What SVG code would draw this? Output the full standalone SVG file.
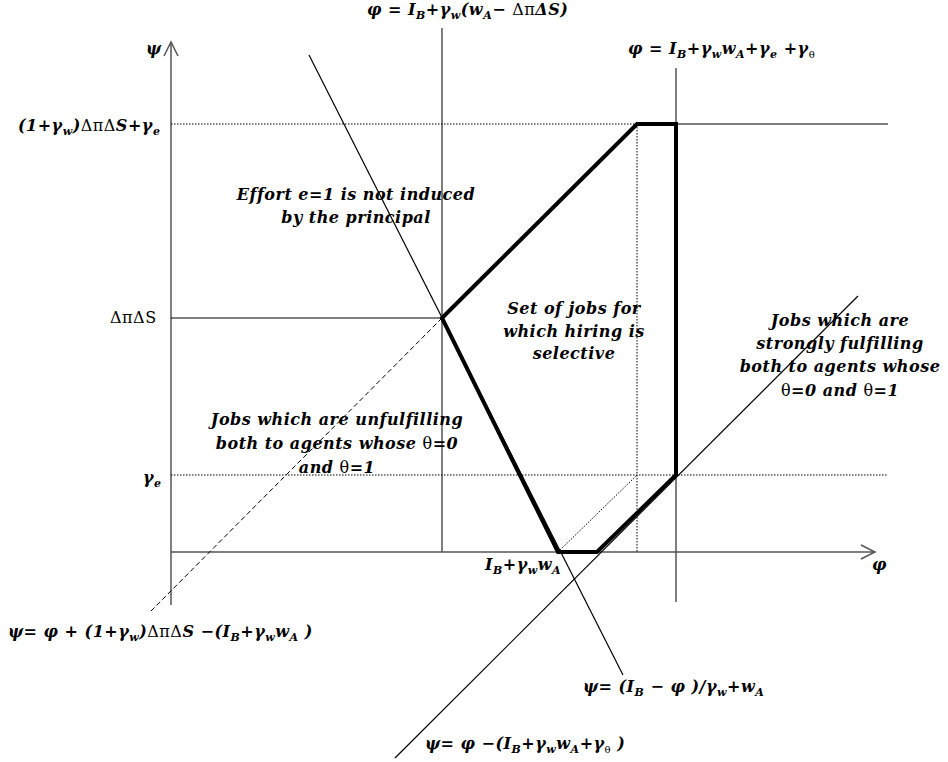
<svg xmlns="http://www.w3.org/2000/svg" width="948" height="762" viewBox="0 0 948 762">
<style>
.t{font-family:"DejaVu Serif","Liberation Serif",serif;font-size:16px;font-weight:bold;font-style:italic;fill:#000;letter-spacing:0.5px}
.c{text-anchor:middle}
.u{font-style:normal;font-weight:normal}
.ax{stroke:#555;stroke-width:1.5;fill:none}
.th{stroke:#000;stroke-width:1.2;fill:none}
.dt{stroke:#000;stroke-width:1;stroke-dasharray:1.5 1.5;fill:none}
.ds{stroke:#000;stroke-width:1;stroke-dasharray:5 3;fill:none}
.bold{stroke:#000;stroke-width:4;fill:none;stroke-linejoin:miter}
</style>
<rect width="948" height="762" fill="#fff"/>
<g id="connectors">
<line class="ax" x1="171" y1="605" x2="171" y2="42"/>
<polyline class="ax" points="164,56 171,42 178,56"/>
<line class="ax" x1="171" y1="552" x2="875" y2="552"/>
<polyline class="ax" points="861,545 875,552 861,559"/>
<line class="ax" x1="442" y1="28" x2="442" y2="552"/>
<line class="ax" x1="676" y1="68" x2="676" y2="602"/>
<line class="th" x1="171" y1="318" x2="442" y2="318"/>
<line class="dt" x1="171" y1="124" x2="637" y2="124"/>
<line class="th" x1="676" y1="124" x2="888" y2="124"/>
<line class="dt" x1="171" y1="475" x2="888" y2="475"/>
<line class="dt" x1="637" y1="124" x2="637" y2="552"/>
<line class="dt" x1="558" y1="552" x2="637" y2="475"/>
<line class="th" x1="309" y1="55" x2="623" y2="675"/>
<line class="th" x1="395" y1="758" x2="858" y2="296"/>
<line class="ds" x1="442" y1="318" x2="150" y2="612"/>
<polygon class="bold" points="442,318 637,124 676,124 676,475 597,552 558,552"/>
</g>
<g id="label-psi"><text class="t" x="146" y="54">ψ</text></g>
<g id="label-phi"><text class="t" x="872" y="570">φ</text></g>
<g id="label-top1"><text class="t" x="367" y="15">φ = I<tspan font-size="11" dy="4">B</tspan><tspan dy="-4">+γ</tspan><tspan font-size="11" dy="4">w</tspan><tspan dy="-4">(w</tspan><tspan font-size="11" dy="4">A</tspan><tspan dy="-4">− </tspan><tspan class="u">Δπ</tspan><tspan>Δ</tspan>S)</text></g>
<g id="label-top2"><text class="t" x="628" y="54">φ = I<tspan font-size="11" dy="4">B</tspan><tspan dy="-4">+γ</tspan><tspan font-size="11" dy="4">w</tspan><tspan dy="-4">w</tspan><tspan font-size="11" dy="4">A</tspan><tspan dy="-4">+γ</tspan><tspan font-size="11" dy="4">e</tspan><tspan dy="-4"> +γ</tspan><tspan font-size="10" dy="4" class="u">θ</tspan></text></g>
<g id="label-ymax"><text class="t" x="18" y="131">(1+γ<tspan font-size="11" dy="4">w</tspan><tspan dy="-4">)</tspan><tspan class="u">ΔπΔ</tspan>S+γ<tspan font-size="11" dy="4">e</tspan></text></g>
<g id="label-dpds"><text class="t u" x="110" y="323" font-size="13">ΔπΔS</text></g>
<g id="label-ge"><text class="t" x="143" y="483">γ<tspan font-size="11" dy="4">e</tspan></text></g>
<g id="label-effort"><text class="t c" x="356" y="200">Effort e=1 is not induced</text><text class="t c" x="356" y="223">by the principal</text></g>
<g id="label-selective"><text class="t c" x="574" y="314">Set of jobs for</text><text class="t c" x="574" y="337">which hiring is</text><text class="t c" x="574" y="359">selective</text></g>
<g id="label-strong"><text class="t c" x="840" y="326">Jobs which are</text><text class="t c" x="840" y="349">strongly fulfilling</text><text class="t c" x="840" y="372">both to agents whose</text><text class="t c" x="840" y="396"><tspan class="u">θ</tspan>=0 and <tspan class="u">θ</tspan>=1</text></g>
<g id="label-unfulfilling"><text class="t c" x="337" y="425">Jobs which are unfulfilling</text><text class="t c" x="337" y="449">both to agents whose <tspan class="u">θ</tspan>=0</text><text class="t c" x="337" y="473">and <tspan class="u">θ</tspan>=1</text></g>
<g id="label-ib"><text class="t" x="485" y="570">I<tspan font-size="11" dy="4">B</tspan><tspan dy="-4">+γ</tspan><tspan font-size="11" dy="4">w</tspan><tspan dy="-4">w</tspan><tspan font-size="11" dy="4">A</tspan></text></g>
<g id="label-eq1"><text class="t" x="8" y="637">ψ= φ + (1+γ<tspan font-size="11" dy="4">w</tspan><tspan dy="-4">)</tspan><tspan class="u">ΔπΔ</tspan>S −(I<tspan font-size="11" dy="4">B</tspan><tspan dy="-4">+γ</tspan><tspan font-size="11" dy="4">w</tspan><tspan dy="-4">w</tspan><tspan font-size="11" dy="4">A</tspan><tspan dy="-4"> )</tspan></text></g>
<g id="label-eq2"><text class="t" x="583" y="692">ψ= (I<tspan font-size="11" dy="4">B</tspan><tspan dy="-4"> − φ )/γ</tspan><tspan font-size="11" dy="4">w</tspan><tspan dy="-4">+w</tspan><tspan font-size="11" dy="4">A</tspan></text></g>
<g id="label-eq3"><text class="t" x="425" y="749">ψ= φ −(I<tspan font-size="11" dy="4">B</tspan><tspan dy="-4">+γ</tspan><tspan font-size="11" dy="4">w</tspan><tspan dy="-4">w</tspan><tspan font-size="11" dy="4">A</tspan><tspan dy="-4">+γ</tspan><tspan font-size="10" dy="4" class="u">θ</tspan><tspan dy="-4"> )</tspan></text></g>
</svg>
